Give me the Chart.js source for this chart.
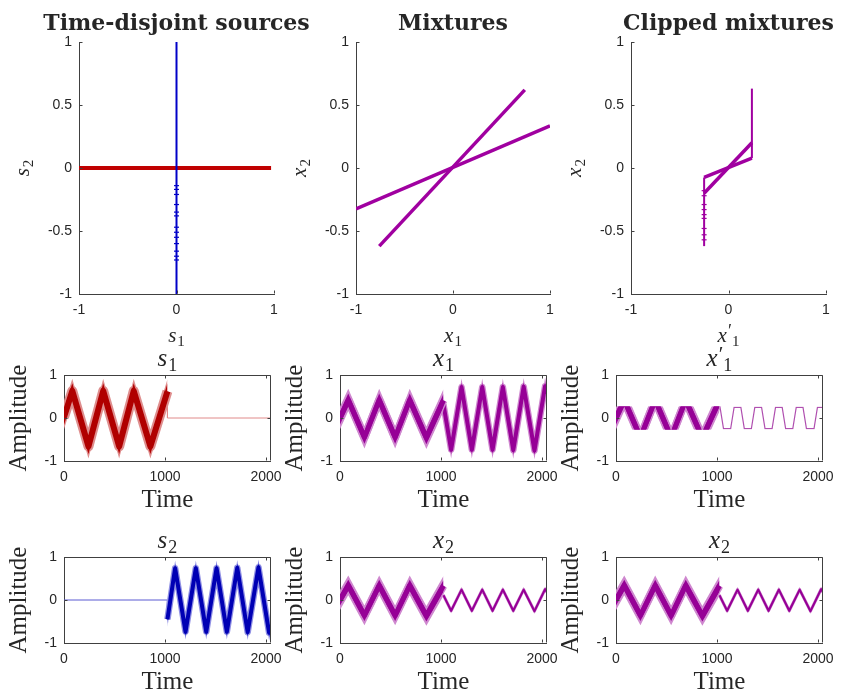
<!DOCTYPE html>
<html>
<head>
<meta charset="utf-8">
<script src="https://cdn.jsdelivr.net/npm/chart.js@4.4.1/dist/chart.umd.min.js"></script>
<style>
  html, body { margin: 0; padding: 0; background: #fff; overflow: hidden; }
  #fig { position: relative; width: 842px; height: 696px; }
  #fig canvas { position: absolute; }
</style>
</head>
<body>
<div id="fig"></div>
<script>
// ---- tick labels ----
const timeTicks = [0, 1000, 2000];
const ampTicks = [-1, 0, 1];
const scatterTicksX = [-1, 0, 1];
const scatterTicksY = [-1, -0.5, 0, 0.5, 1];

// ---- time series (triangle-wave corners, sample index / amplitude) ----
const firstHalfTime = [0, 82, 242, 388, 546, 690, 855, 1024];
const secondHalfTime = [1024, 1100, 1203, 1305, 1408, 1510, 1612, 1715, 1818, 1925, 2030, 2048];
const quietFirstTime = [0, 1024];
const quietSecondTime = [1024, 2048];
const quietAmp = [0, 0];

const s1Amp = [0.02, 0.63, -0.66, 0.63, -0.66, 0.63, -0.66, 0.62];
const s2Amp = [-0.45, 0.74, -0.74, 0.74, -0.74, 0.74, -0.74, 0.75, -0.75, 0.76, -0.76, -0.58];
const x1AmpA = [0.0, 0.42, -0.45, 0.42, -0.45, 0.42, -0.46, 0.41];
const x1AmpB = [0.32, -0.74, 0.72, -0.74, 0.72, -0.74, 0.72, -0.75, 0.73, -0.76, 0.74, 0.56];
const x2AmpA = [0.0, 0.34, -0.36, 0.34, -0.36, 0.34, -0.37, 0.33];
const x2AmpB = [0.11, -0.25, 0.24, -0.25, 0.24, -0.25, 0.24, -0.25, 0.24, -0.26, 0.25, 0.19];

// noise spread in amplitude units [dense core, sparse fringe]
const s1Noise = [0.18, 0.28];
const s2Noise = [0.1, 0.18];
const x1NoiseA = [0.15, 0.26];
const x1NoiseB = [0.1, 0.2];
const x2NoiseA = [0.13, 0.23];
const x2NoiseB = [0.03, 0.06];

// clipped x1: saturation level and the clean trapezoids of the second half
const clipLevel = 0.245;
const x1ClipTime = [1024, 1030, 1064, 1135, 1169, 1236, 1270, 1340, 1374, 1441, 1475,
                    1545, 1579, 1645, 1679, 1750, 1784, 1851, 1885, 1960, 1994, 2048];
const x1ClipAmp = [0.245, 0.245, -0.245, -0.245, 0.245, 0.245, -0.245, -0.245, 0.245, 0.245, -0.245,
                   -0.245, 0.245, 0.245, -0.245, -0.245, 0.245, 0.245, -0.245, -0.245, 0.245, 0.245];

// ---- scatter plots ----
const srcS1Span = [[-1, 0], [0.97, 0]];
const srcS2Span = [[0, -1], [0, 1]];
const srcS2Dots = [-0.14, -0.17, -0.21, -0.29, -0.35, -0.38, -0.47, -0.51, -0.55, -0.6, -0.66, -0.7, -0.73];
const mixSteep = [[-0.76, -0.62], [0.74, 0.62]];
const mixShallow = [[-1, -0.325], [1, 0.335]];
const clipSteep = [[-0.25, -0.2], [0.24, 0.2]];
const clipShallow = [[-0.25, -0.075], [0.24, 0.078]];
const clipEdgeLeft = [[-0.25, -0.62], [-0.25, -0.075]];
const clipEdgeRight = [[0.24, 0.078], [0.24, 0.63]];
const clipEdgeDots = [-0.18, -0.22, -0.29, -0.33, -0.37, -0.4, -0.48, -0.53, -0.57];

// ---- style ----
const INK = '#262626';
const AXIS = '#404040';
const SERIF = '"Liberation Serif", "DejaVu Serif", serif';
const TITLE_FONT = '"DejaVu Serif", serif';
const RED = { dark: '#b00000', light: '#df8e8e', thin: '#e08a8a' };
const BLUE = { dark: '#0000b4', light: '#9090e4', thin: '#5a5ad2' };
const PURPLE = { dark: '#960096', light: '#cf88cf', thin: '#b050b0' };
// stroke widths (px) for [core, fringe] of each noisy trace
const STROKE_WIDE = [6, 10];
const STROKE_MID = [5, 8];
const STROKE_NARROW = [4, 6.5];
const STROKE_FINE = [2, 3];

Chart.defaults.font.family = '"Liberation Sans", Arial, sans-serif';
Chart.defaults.font.size = 14;
Chart.defaults.color = INK;

function pts(time, amp, off) {
  return time.map((t, i) => ({ x: t, y: amp[i] + off }));
}

// a noisy trace: vertical spread band plus a thick stroke.
// Chart.js paints dataset 0 last, so the dark core comes first in the list.
function noisyTrace(time, amp, spread, strokes, color) {
  const edge = { borderWidth: 0, borderColor: 'transparent', pointRadius: 0 };
  const layer = (h, w, c) => [
    { data: pts(time, amp, 0), borderColor: c, borderWidth: w, borderJoinStyle: 'round',
      pointRadius: 0, fill: false },
    { ...edge, data: pts(time, amp, h), fill: '+1', backgroundColor: c },
    { ...edge, data: pts(time, amp, -h), fill: false }
  ];
  return [...layer(spread[0], strokes[0], color.dark), ...layer(spread[1], strokes[1], color.light)];
}

function thinTrace(points, color, width) {
  return { data: points, borderColor: color, borderWidth: width || 1, pointRadius: 0, fill: false };
}

function segment(pairs, color, width) {
  return thinTrace(pairs.map(([x, y]) => ({ x, y })), color, width);
}

function dots(xs, ys, color) {
  return {
    data: xs.map((x, i) => ({ x, y: ys[i] })), showLine: false, fill: false,
    pointStyle: 'line', pointRadius: 2.5, pointBorderColor: color, pointBorderWidth: 1.2
  };
}

// draws an italic symbol with optional prime and upright subscript
function drawMath(ctx, m, cx, baseline, size, angle) {
  const small = Math.round(size * 0.7);
  const primeSize = Math.round(size * 0.85);
  ctx.save();
  ctx.translate(cx, baseline);
  if (angle) ctx.rotate(angle);
  ctx.textAlign = 'left';
  ctx.textBaseline = 'alphabetic';
  ctx.font = `italic ${size}px ${SERIF}`;
  const wBase = ctx.measureText(m.base).width;
  ctx.font = `${primeSize}px ${SERIF}`;
  const wSup = m.sup ? ctx.measureText(m.sup).width : 0;
  ctx.font = `${small}px ${SERIF}`;
  const wSub = ctx.measureText(m.sub).width;
  let x = -(wBase + 1 + wSup + wSub) / 2;
  ctx.font = `italic ${size}px ${SERIF}`;
  ctx.fillText(m.base, x, 0);
  x += wBase + 1;
  if (m.sup) {
    ctx.font = `${primeSize}px ${SERIF}`;
    ctx.fillText(m.sup, x, -size * 0.22);
    x += wSup;
  }
  ctx.font = `${small}px ${SERIF}`;
  ctx.fillText(m.sub, x, size * 0.2);
  ctx.restore();
}

// box, inward tick marks, titles and axis labels
const panelText = {
  id: 'panelText',
  afterDraw(chart, args, o) {
    const ctx = chart.ctx, a = chart.chartArea;
    const cx = (a.left + a.right) / 2, cy = (a.top + a.bottom) / 2;
    const xs = chart.scales.x, ys = chart.scales.y;
    const tl = 3;
    ctx.save();
    ctx.strokeStyle = AXIS;
    ctx.lineWidth = 1;
    ctx.beginPath();
    const L = Math.round(a.left) + 0.5, R = Math.round(a.right) - 0.5;
    const T = Math.round(a.top) + 0.5, B = Math.round(a.bottom) - 0.5;
    if (o.box) {
      ctx.moveTo(L, T); ctx.lineTo(R, T); ctx.lineTo(R, B);
    }
    xs.ticks.forEach(t => {
      const px = Math.round(xs.getPixelForValue(t.value)) + 0.5;
      ctx.moveTo(px, B); ctx.lineTo(px, B - tl);
      if (o.box) { ctx.moveTo(px, T); ctx.lineTo(px, T + tl); }
    });
    ys.ticks.forEach(t => {
      const py = Math.round(ys.getPixelForValue(t.value)) + 0.5;
      ctx.moveTo(L, py); ctx.lineTo(L + tl, py);
      if (o.box) { ctx.moveTo(R, py); ctx.lineTo(R - tl, py); }
    });
    ctx.stroke();

    ctx.fillStyle = INK;
    ctx.textAlign = 'center';
    ctx.textBaseline = 'alphabetic';
    if (o.title) {
      ctx.font = `bold 22px ${TITLE_FONT}`;
      ctx.fillText(o.title, cx, a.top - 12);
    }
    if (o.titleMath) drawMath(ctx, o.titleMath, cx, a.top - 9, 25, 0);
    if (o.xMath) drawMath(ctx, o.xMath, cx, a.bottom + 48, 21, 0);
    if (o.yMath) drawMath(ctx, o.yMath, a.left - 50, cy, 21, -Math.PI / 2);
    if (o.xText) {
      ctx.font = `25px ${SERIF}`;
      ctx.fillText(o.xText, cx, a.bottom + 46);
    }
    if (o.yText) {
      ctx.save();
      ctx.translate(a.left - 38, cy);
      ctx.rotate(-Math.PI / 2);
      ctx.font = `25px ${SERIF}`;
      ctx.fillText(o.yText, 0, 0);
      ctx.restore();
    }
    ctx.restore();
  }
};

// saturates drawing of a panel's traces at +/- level
const clipBand = {
  id: 'clipBand',
  beforeDatasetsDraw(chart, args, o) {
    if (!o.level) return;
    const a = chart.chartArea, ys = chart.scales.y;
    const top = ys.getPixelForValue(o.level) - 1, bot = ys.getPixelForValue(-o.level) + 1;
    chart.ctx.save();
    chart.ctx.beginPath();
    chart.ctx.rect(a.left, top, a.right - a.left, bot - top);
    chart.ctx.clip();
  },
  afterDatasetsDraw(chart, args, o) {
    if (o.level) chart.ctx.restore();
  }
};

function axis(dir, range, ticks, size) {
  return {
    type: 'linear',
    position: dir === 'x' ? 'bottom' : 'left',
    min: range[0], max: range[1],
    grid: { display: false, drawTicks: false },
    border: { display: true, color: AXIS, width: 1 },
    ticks: {
      color: INK, padding: dir === 'x' ? 8 : 7, autoSkip: false, maxRotation: 0,
      callback: v => String(v)
    },
    afterBuildTicks: s => { s.ticks = ticks.map(v => ({ value: v })); },
    afterFit: s => { if (dir === 'x') s.height = size; else s.width = size; }
  };
}

const fig = document.getElementById('fig');

function panel(box, pad, cfg) {
  const c = document.createElement('canvas');
  const w = box.w + pad.l + pad.r, h = box.h + pad.t + pad.b;
  c.width = w; c.height = h;
  c.style.width = w + 'px'; c.style.height = h + 'px';
  c.style.left = (box.x - pad.l) + 'px';
  c.style.top = (box.y - pad.t) + 'px';
  fig.appendChild(c);
  return new Chart(c, {
    type: 'line',
    data: { datasets: cfg.datasets },
    options: {
      responsive: false, animation: false, devicePixelRatio: 1,
      layout: { padding: { left: 0, top: pad.t, right: pad.r, bottom: 0 } },
      elements: { line: { tension: 0 }, point: { radius: 0 } },
      plugins: {
        legend: { display: false }, tooltip: { enabled: false },
        panelText: cfg.text, clipBand: { level: cfg.clip || 0 }
      },
      scales: {
        x: axis('x', cfg.xRange, cfg.xTicks, pad.b),
        y: axis('y', cfg.yRange, cfg.yTicks, pad.l)
      }
    },
    plugins: [panelText, clipBand]
  });
}

// ---- layout ----
const topPad = { l: 76, r: 44, t: 42, b: 62 };
const rowPad = { l: 62, r: 16, t: 44, b: 54 };
const topRow = [{ x: 79, w: 195 }, { x: 356, w: 194 }, { x: 631, w: 195 }];
const lowCols = [{ x: 64, w: 210 }, { x: 340, w: 210 }, { x: 616, w: 210 }];
const topBox = i => ({ x: topRow[i].x, w: topRow[i].w, y: 42, h: 252 });
const rowBox = (i, y) => ({ x: lowCols[i].x, w: lowCols[i].w, y, h: 86 });

const scatterCfg = { xRange: [-1, 1], yRange: [-1, 1], xTicks: scatterTicksX, yTicks: scatterTicksY };
const seriesCfg = { xRange: [0, 2048], yRange: [-1, 1], xTicks: timeTicks, yTicks: ampTicks };

// top row: scatter plots
panel(topBox(0), topPad, {
  ...scatterCfg,
  datasets: [
    dots(srcS2Dots.map(() => 0), srcS2Dots, '#0000c8'),
    segment(srcS2Span, '#0000c8', 2),
    segment(srcS1Span, '#c00000', 4)
  ],
  text: { title: 'Time-disjoint sources', xMath: { base: 's', sub: '1' }, yMath: { base: 's', sub: '2' } }
});

panel(topBox(1), topPad, {
  ...scatterCfg,
  datasets: [segment(mixShallow, '#a000a0', 3.5), segment(mixSteep, '#a000a0', 3.5)],
  text: { title: 'Mixtures', xMath: { base: 'x', sub: '1' }, yMath: { base: 'x', sub: '2' } }
});

panel(topBox(2), topPad, {
  ...scatterCfg,
  datasets: [
    dots(clipEdgeDots.map(() => clipEdgeLeft[0][0]), clipEdgeDots, '#a000a0'),
    segment(clipEdgeLeft, '#a000a0', 2),
    segment(clipEdgeRight, '#a000a0', 2),
    segment(clipShallow, '#a000a0', 3.5),
    segment(clipSteep, '#a000a0', 3.5)
  ],
  text: { title: 'Clipped mixtures', xMath: { base: 'x', sup: '\u2032', sub: '1' }, yMath: { base: 'x', sub: '2' } }
});

// middle row
const lastOf = (time, amp) => ({ x: time[time.length - 1], y: amp[amp.length - 1] });

panel(rowBox(0, 375), rowPad, {
  ...seriesCfg,
  datasets: [
    ...noisyTrace(firstHalfTime, s1Amp, s1Noise, STROKE_WIDE, RED),
    thinTrace([lastOf(firstHalfTime, s1Amp), ...pts(quietSecondTime, quietAmp, 0)], RED.thin)
  ],
  text: { box: true, titleMath: { base: 's', sub: '1' }, xText: 'Time', yText: 'Amplitude' }
});

panel(rowBox(1, 375), rowPad, {
  ...seriesCfg,
  datasets: [
    ...noisyTrace(firstHalfTime, x1AmpA, x1NoiseA, STROKE_MID, PURPLE),
    ...noisyTrace(secondHalfTime, x1AmpB, x1NoiseB, STROKE_NARROW, PURPLE)
  ],
  text: { box: true, titleMath: { base: 'x', sub: '1' }, xText: 'Time', yText: 'Amplitude' }
});

panel(rowBox(2, 375), rowPad, {
  ...seriesCfg,
  clip: clipLevel,
  datasets: [
    ...noisyTrace(firstHalfTime, x1AmpA, x1NoiseA, STROKE_MID, PURPLE),
    thinTrace(pts(x1ClipTime, x1ClipAmp, 0), PURPLE.thin, 1.2)
  ],
  text: { box: true, titleMath: { base: 'x', sup: '\u2032', sub: '1' }, xText: 'Time', yText: 'Amplitude' }
});

// bottom row
panel(rowBox(0, 557), rowPad, {
  ...seriesCfg,
  datasets: [
    ...noisyTrace(secondHalfTime, s2Amp, s2Noise, STROKE_NARROW, BLUE),
    thinTrace([...pts(quietFirstTime, quietAmp, 0), { x: secondHalfTime[0], y: s2Amp[0] }], BLUE.thin)
  ],
  text: { box: true, titleMath: { base: 's', sub: '2' }, xText: 'Time', yText: 'Amplitude' }
});

[1, 2].forEach(i => panel(rowBox(i, 557), rowPad, {
  ...seriesCfg,
  datasets: [
    ...noisyTrace(firstHalfTime, x2AmpA, x2NoiseA, STROKE_MID, PURPLE),
    ...noisyTrace(secondHalfTime, x2AmpB, x2NoiseB, STROKE_FINE, PURPLE)
  ],
  text: { box: true, titleMath: { base: 'x', sub: '2' }, xText: 'Time', yText: 'Amplitude' }
}));
</script>
</body>
</html>
